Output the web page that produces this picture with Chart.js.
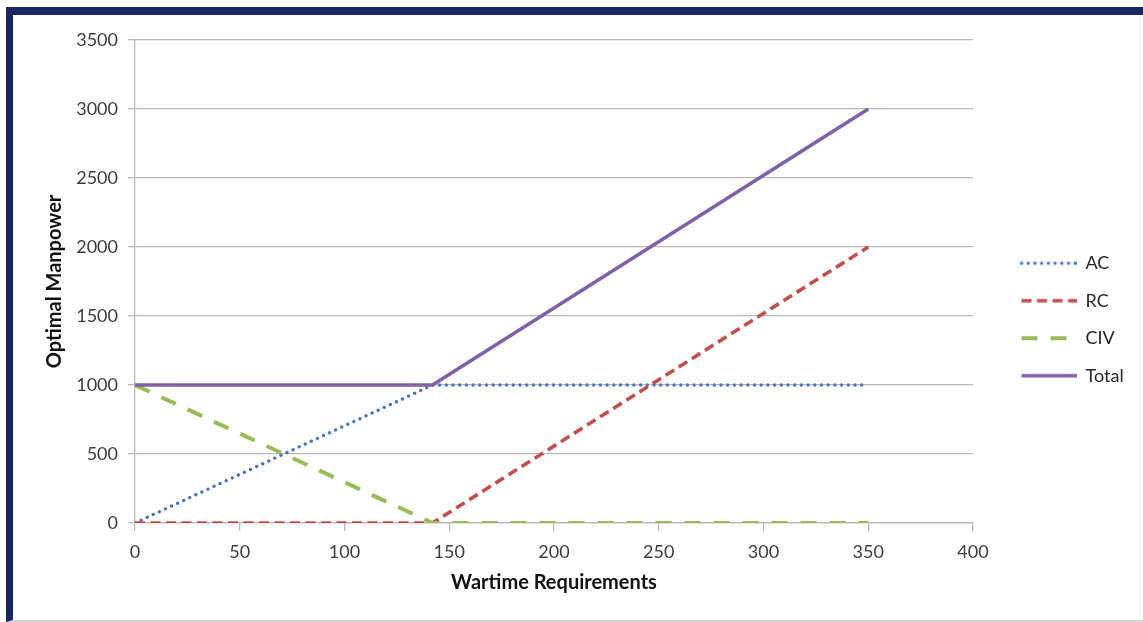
<!DOCTYPE html>
<html>
<head>
<meta charset="utf-8">
<script src="https://cdn.jsdelivr.net/npm/chart.js@4"></script>
<style>
  html, body { margin: 0; padding: 0; background: #ffffff; width: 1143px; height: 622px; overflow: hidden; }
  #frame {
    position: absolute; left: 6px; top: 7px; width: 1130px; height: 605px;
    border-top: 8px solid #1c2660; border-left: 7px solid #1c2660;
    border-bottom: 2px solid #d2d2dc;
    background: #ffffff;
  }
  #edge { position: absolute; left: 1126px; top: 0; width: 1px; height: 605px; background: #f1f1f4; }
  #wrap { position: absolute; left: 0; top: 0; width: 1119px; height: 605px; }
</style>
</head>
<body>
<div id="frame"><div id="edge"></div><div id="wrap"><canvas id="c"></canvas></div></div>
<script>
// ---- data ----
const xValues     = [0, 142, 350];
const acValues    = [0, 1000, 1000];
const rcValues    = [0, 0, 2000];
const civValues   = [1000, 0, 0];
const totalValues = [1000, 1000, 3000];
const seriesNames = ['AC', 'RC', 'CIV', 'Total'];
const xTitle = 'Wartime Requirements';
const yTitle = 'Optimal Manpower';

const pts = vals => xValues.map((x, i) => ({ x: x, y: vals[i] }));

const styles = [
  { color: '#4a76b8', width: 3.3, dash: [0.1, 6.6], cap: 'round' },
  { color: '#c0504d', width: 3.6, dash: [10, 5.5], cap: 'butt' },
  { color: '#9bbb59', width: 4, dash: [16, 13], cap: 'butt' },
  { color: '#7f62a6', width: 3.6, dash: [], cap: 'butt' }
];

function legendImage(s) {
  const c = document.createElement('canvas');
  c.width = 84; c.height = 10;
  const g = c.getContext('2d');
  g.strokeStyle = s.color; g.lineWidth = s.width; g.lineCap = s.cap;
  g.setLineDash(s.dash);
  g.beginPath(); g.moveTo(29, 5); g.lineTo(84, 5); g.stroke();
  return c;
}
const legendImgs = styles.map(legendImage);

const allValues = [acValues, rcValues, civValues, totalValues];
const datasets = allValues.map((vals, i) => ({
  label: seriesNames[i],
  data: pts(vals),
  borderColor: styles[i].color,
  backgroundColor: 'transparent',
  borderWidth: styles[i].width,
  borderDash: styles[i].dash,
  borderCapStyle: styles[i].cap,
  pointRadius: 0,
  pointHoverRadius: 0,
  tension: 0,
  fill: false,
  order: 4 - i
}));

const legendFix = {
  id: 'legendFix',
  beforeLayout(chart) {
    const lg = chart.legend;
    if (lg && !lg._patched) {
      const origFit = lg.fit.bind(lg);
      lg.fit = function () { origFit(); this.width = 159; };
      const origDraw = lg.draw.bind(lg);
      lg.draw = function () {
        const ctx = this.ctx;
        ctx.save(); ctx.translate(0, -8); origDraw(); ctx.restore();
      };
      lg._patched = true;
    }
  }
};

const gridColor = '#bfb7b7';
const tickFont = { family: 'Lato', size: 18 };
const titleFont = { family: 'Lato', size: 20, weight: 'bold' };
const plain = v => String(v);

new Chart(document.getElementById('c'), {
  type: 'line',
  data: { datasets: datasets },
  plugins: [legendFix],
  options: {
    responsive: true,
    maintainAspectRatio: false,
    animation: false,
    layout: { padding: { top: 25, right: 0, bottom: 5, left: 0 } },
    plugins: {
      tooltip: { enabled: false },
      legend: {
        position: 'right',
        align: 'center',
        labels: {
          usePointStyle: true,
          pointStyleWidth: 84,
          padding: 19.5,
          color: '#262626',
          font: { family: 'Lato', size: 18 },
          sort: (a, b) => a.datasetIndex - b.datasetIndex,
          generateLabels: chart => Chart.defaults.plugins.legend.labels.generateLabels(chart)
            .map(l => Object.assign(l, { pointStyle: legendImgs[l.datasetIndex] }))
        }
      }
    },
    scales: {
      x: {
        type: 'linear',
        min: 0, max: 400,
        afterFit: s => { s.height = 92; },
        ticks: { stepSize: 50, color: '#3c3c3c', font: tickFont, padding: 10, maxRotation: 0, callback: plain },
        grid: { drawOnChartArea: false, drawTicks: true, tickLength: 8, color: gridColor, lineWidth: 1.3 },
        border: { color: gridColor, width: 1.3 },
        title: { display: true, text: xTitle, color: '#111', font: titleFont, padding: { top: 0, bottom: 20 } }
      },
      y: {
        type: 'linear',
        min: 0, max: 3500,
        afterFit: s => { s.width = 122; },
        ticks: { stepSize: 500, color: '#3c3c3c', font: tickFont, padding: 10, callback: plain },
        grid: { drawOnChartArea: true, drawTicks: true, tickLength: 7, color: gridColor, lineWidth: 1.3 },
        border: { color: gridColor, width: 1.3 },
        title: { display: true, text: yTitle, color: '#111', font: titleFont, padding: { top: 30, bottom: 0 } }
      }
    }
  }
});
</script>
</body>
</html>
